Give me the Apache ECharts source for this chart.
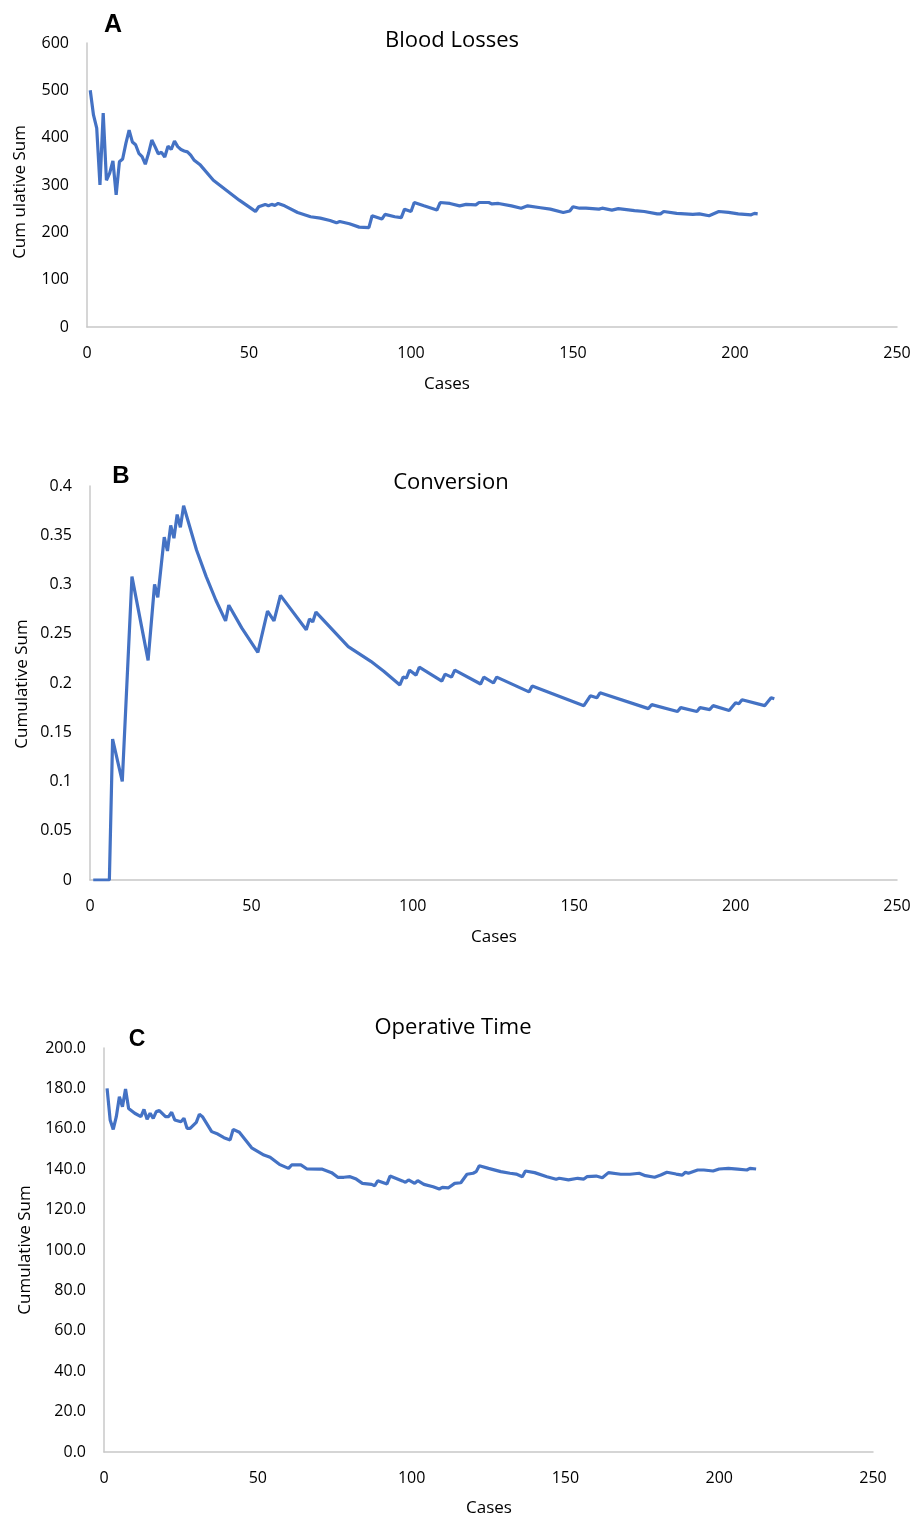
<!DOCTYPE html>
<html>
<head>
<meta charset="utf-8">
<style>
  html, body { margin: 0; padding: 0; background: #fff; }
  #chart { width: 917px; height: 1518px; }
</style>
<script src="https://cdn.jsdelivr.net/npm/echarts@6/dist/echarts.min.js"></script>
</head>
<body>
<div id="chart"></div>
<script>
/* ========== data ========== */
const xTicks = [0, 50, 100, 150, 200, 250];

// A: Blood Losses
const casesA = [1, 2, 3, 4, 5, 6, 7, 8, 9, 10, 11, 12, 13, 14, 15, 16, 17, 18, 19, 20,
  21, 22, 23, 24, 25, 26, 27, 28, 29, 30, 31, 32, 33, 35, 39, 43, 47, 51, 52, 53,
  55, 56, 57, 58, 59, 61, 65, 69, 72, 75, 77, 78, 81, 84, 87, 88, 91, 92, 95, 97,
  98, 100, 101, 104, 108, 109, 112, 115, 117, 120, 121, 124, 125, 127, 131, 134, 136, 140, 143, 147,
  149, 150, 152, 154, 158, 159, 162, 164, 169, 172, 176, 177, 178, 182, 187, 189, 192, 195, 198, 201,
  205, 206, 207];
const bloodLoss = [500, 448, 420, 300, 452, 310, 325, 351, 279, 349, 355, 388, 416, 391, 385, 367, 360, 344, 367, 395,
  381, 366, 369, 359, 382, 375, 393, 381, 375, 372, 370, 363, 353, 342, 310, 289, 268, 249, 244, 254,
  259, 256, 259, 257, 261, 256, 242, 233, 230, 225, 220, 223, 218, 211, 210, 235, 228, 238, 233, 231,
  249, 244, 263, 256, 247, 263, 261, 256, 259, 258, 263, 263, 260, 261, 256, 251, 256, 252, 249, 242,
  245, 254, 251, 251, 249, 251, 247, 250, 246, 244, 239, 239, 244, 240, 238, 239, 235, 244, 242, 239,
  237, 240, 239];

// B: Conversion
const casesB = [1, 6, 7, 10, 13, 18, 20, 21, 23, 24, 25, 26, 27, 28, 29, 33, 36, 39, 42, 43,
  47, 52, 55, 57, 59, 67, 68, 69, 70, 80, 87, 91, 96, 97, 98, 99, 101, 102, 109, 110,
  112, 113, 121, 122, 125, 126, 136, 137, 153, 155, 157, 158, 173, 174, 182, 183, 188, 189, 192, 193,
  198, 200, 201, 202, 209, 211, 212];
const conversion = [0, 0, 0.143, 0.1, 0.308, 0.223, 0.3, 0.287, 0.348, 0.334, 0.36, 0.347, 0.371, 0.358, 0.38, 0.335, 0.308, 0.284, 0.263, 0.279,
  0.256, 0.231, 0.273, 0.263, 0.289, 0.254, 0.265, 0.262, 0.272, 0.237, 0.222, 0.212, 0.198, 0.206, 0.205, 0.213, 0.208, 0.216, 0.202, 0.209,
  0.206, 0.213, 0.199, 0.206, 0.2, 0.206, 0.191, 0.197, 0.177, 0.187, 0.185, 0.19, 0.174, 0.178, 0.171, 0.175, 0.171, 0.175, 0.173, 0.177,
  0.172, 0.18, 0.179, 0.183, 0.177, 0.185, 0.184];

// C: Operative Time
const casesC = [1, 2, 3, 4, 5, 6, 7, 8, 10, 12, 13, 14, 15, 16, 17, 18, 20, 21, 22, 23,
  25, 26, 27, 28, 30, 31, 32, 35, 37, 39, 41, 42, 44, 46, 48, 52, 54, 57, 60, 61,
  64, 66, 70, 71, 74, 76, 78, 80, 82, 84, 87, 88, 89, 92, 93, 97, 98, 99, 101, 102,
  104, 107, 109, 110, 112, 114, 116, 118, 120, 121, 122, 125, 129, 132, 134, 136, 137, 140, 144, 147,
  148, 151, 154, 156, 157, 160, 162, 164, 168, 171, 174, 176, 179, 181, 183, 186, 188, 189, 190, 193,
  195, 198, 200, 203, 206, 209, 210, 212];
const opTime = [180, 164.4, 159.7, 166, 175.9, 170.9, 179.7, 170.1, 167.7, 166, 169.6, 164.7, 167.7, 165.2, 168.5, 169, 166, 166, 168.2, 164.4,
  163.5, 165.2, 160.2, 160.2, 163.2, 167.2, 166, 158.6, 157.4, 155.6, 154.5, 159.7, 158.3, 154.5, 150.6, 147, 145.9, 142.4, 140.4, 142.1,
  142.1, 140.1, 140, 140, 138.3, 136, 136, 136.3, 135.1, 133, 132.5, 131.8, 134.3, 132.7, 136.6, 134.2, 133.5, 134.7, 133, 134.3,
  132.5, 131.3, 130.2, 131, 130.8, 133, 133.3, 137.5, 138, 138.8, 141.7, 140.4, 138.8, 138, 137.6, 136.3, 139.1, 138.3, 136.3, 135,
  135.5, 134.7, 135.5, 135.1, 136.3, 136.6, 135.8, 138.3, 137.5, 137.5, 138, 136.8, 136, 137.1, 138.5, 137.6, 137.1, 138.5, 138, 139.6,
  139.6, 139.1, 140.1, 140.4, 140, 139.6, 140.4, 140.1];

/* ========== helpers ========== */
const FONT = '"Open Sans", "Noto Sans", sans-serif';
const LINE = '#4472C4';
const AXIS = '#c8c8c8';

function pairs(xs, ys) {
    return xs.map((x, i) => [x, ys[i]]);
}

function xAxisFor(gi) {
    return {
        gridIndex: gi, type: 'value', min: xTicks[0], max: xTicks[xTicks.length - 1], interval: 50,
        axisLine: { show: true, onZero: false, lineStyle: { color: AXIS, width: 1.5 } },
        axisTick: { show: false }, splitLine: { show: false },
        axisLabel: { color: '#000', fontSize: 16, fontFamily: FONT, margin: 18 }
    };
}

function yAxisFor(gi, max, interval, fmt) {
    return {
        gridIndex: gi, type: 'value', min: 0, max, interval,
        axisLine: { show: true, lineStyle: { color: AXIS, width: 1.5 } },
        axisTick: { show: false }, splitLine: { show: false },
        axisLabel: { color: '#000', fontSize: 16, fontFamily: FONT, margin: 18, formatter: fmt }
    };
}

function lineSeries(gi, data) {
    return {
        type: 'line', xAxisIndex: gi, yAxisIndex: gi, data, showSymbol: false,
        lineStyle: { color: LINE, width: 3.2 }, itemStyle: { color: LINE }, animation: false
    };
}

function txt(x, y, text, size) {
    return {
        type: 'text', x, y,
        style: { text, fill: '#000', font: `${size}px ${FONT}`, align: 'center', verticalAlign: 'middle' }
    };
}

function letter(x, y, text, size) {
    return {
        type: 'text', x, y,
        style: { text, fill: '#000', font: `bold ${size}px "Liberation Sans", Arial, sans-serif`, align: 'center', verticalAlign: 'middle' }
    };
}

function yName(x, y, text) {
    return {
        type: 'text', x, y, rotation: Math.PI / 2,
        style: { text, fill: '#000', font: `17px ${FONT}`, align: 'center', verticalAlign: 'middle' }
    };
}

/* ========== chart ========== */
const chart = echarts.init(document.getElementById('chart'));
chart.setOption({
    backgroundColor: '#fff',
    animation: false,
    grid: [
        { left: 87, right: 20, top: 43, height: 284 },
        { left: 90, right: 20, top: 486, height: 394 },
        { left: 104, right: 44, top: 1048, height: 404 }
    ],
    xAxis: [xAxisFor(0), xAxisFor(1), xAxisFor(2)],
    yAxis: [
        yAxisFor(0, 600, 100),
        yAxisFor(1, 0.4, 0.05),
        yAxisFor(2, 200, 20, v => v.toFixed(1))
    ],
    series: [
        lineSeries(0, pairs(casesA, bloodLoss)),
        lineSeries(1, pairs(casesB, conversion)),
        lineSeries(2, pairs(casesC, opTime))
    ],
    graphic: [
        txt(452, 41, 'Blood Losses', 22),
        txt(451, 483, 'Conversion', 22),
        txt(453, 1028, 'Operative Time', 22),
        letter(113, 25, 'A', 25),
        letter(121, 476, 'B', 24),
        letter(137, 1040, 'C', 23),
        txt(447, 384, 'Cases', 17),
        txt(494, 937, 'Cases', 17),
        txt(489, 1508, 'Cases', 17),
        yName(20, 192, 'Cum ulative Sum'),
        yName(22, 684, 'Cumulative Sum'),
        yName(25, 1250, 'Cumulative Sum')
    ]
});

window.onresize = () => chart.resize();
</script>
</body>
</html>
